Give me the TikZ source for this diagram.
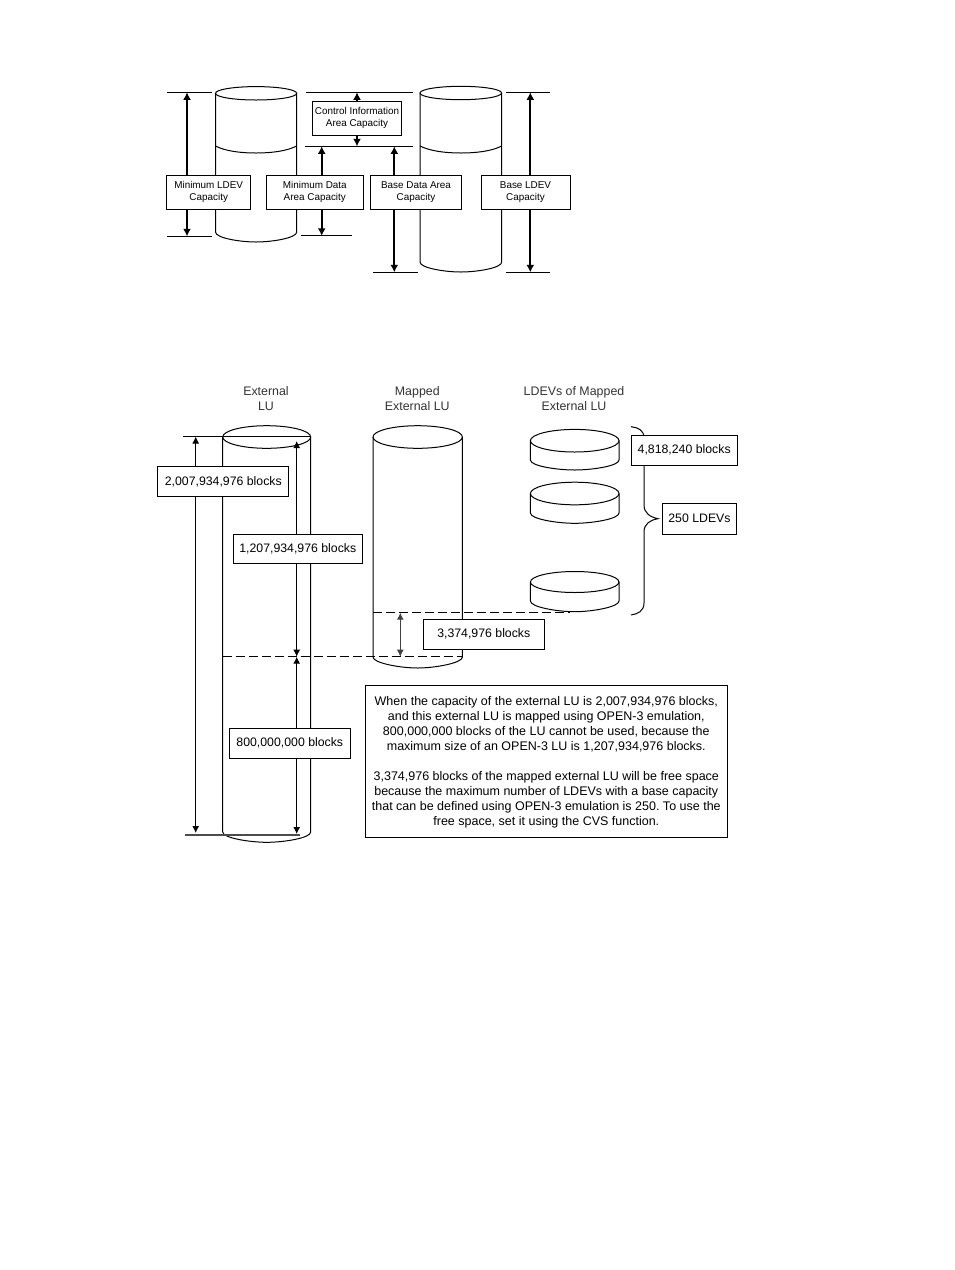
\documentclass[tikz,border=0pt]{standalone}
\usepackage{fontspec}
\setmainfont{Liberation Sans}
\usetikzlibrary{arrows.meta,positioning,calc}
\tikzset{
	smallbox/.style={draw,fill=white,line width=1pt,inner sep=0pt,align=center,font=\fontsize{9.9}{11.6}\selectfont},
	bigbox/.style={draw,fill=white,line width=1pt,inner sep=0pt,align=center,font=\fontsize{12.3}{15}\selectfont},
	notebox/.style={bigbox,font=\fontsize{12.5}{15}\selectfont\frenchspacing},
	headtext/.style={inner sep=0pt,align=center,font=\fontsize{12.4}{15}\selectfont,text=black!80},
	fatarrow/.style={-{Latex[length=7.5pt,width=8pt]},line width=1.9pt},
	thinarrow/.style={-{Latex[length=7pt,width=7pt]},line width=1pt},
	dimline/.style={line width=1pt},
	outline/.style={line width=1pt}
}
\begin{document}
\begin{tikzpicture}[x=1pt,y=-1pt]
\useasboundingbox (0,0) rectangle (954,1270);

% upper cylinders
\draw[outline] (256.1,93.3) ellipse (40.6 and 6.7);
\draw[outline] (215.5,146) .. controls (225,151) and (240,153) .. (256.1,153) .. controls (272,153) and (287,151) .. (296.7,146);
\draw[outline] (215.5,93.3) -- (215.5,232) .. controls (215.5,238) and (240,242) .. (256.1,242) .. controls (272,242) and (296.7,238) .. (296.7,232) -- (296.7,93.3);
\draw[outline] (460.8,93) ellipse (40.8 and 6.7);
\draw[outline] (420,146) .. controls (430,151) and (445,153) .. (460.8,153) .. controls (477,153) and (492,151) .. (501.7,146);
\draw[outline] (420,93) -- (420,262) .. controls (420,268) and (445,272) .. (460.8,272) .. controls (477,272) and (501.7,268) .. (501.7,262) -- (501.7,93);

% upper labels
\node[smallbox,minimum width=83.5pt,minimum height=34pt] (minldev) at (208.7,192) {Minimum LDEV\\Capacity};
\node[smallbox,minimum width=97pt,minimum height=34pt] (mindata) at (314.8,192) {Minimum Data\\Area Capacity};
\node[smallbox,minimum width=91.4pt,minimum height=34pt] (basedata) at (416,192) {Base Data Area\\Capacity};
\node[smallbox,minimum width=89pt,minimum height=34pt] (baseldev) at (525.5,192) {Base LDEV\\Capacity};
\node[smallbox,minimum width=89.4pt,minimum height=34.3pt] (control) at (357,118.2) {Control Information\\Area Capacity};

% upper extension lines
\coordinate (minl) at (167,92.3);
\coordinate (minr) at (212,92.3);
\coordinate (minbl) at (167,236.3);
\coordinate (minbr) at (212,236.3);
\coordinate (ctl) at (306,92.3);
\coordinate (ctr) at (413.3,92.3);
\coordinate (cml) at (305,146.3);
\coordinate (cmr) at (413.3,146.3);
\coordinate (dbl) at (301,235.8);
\coordinate (dbr) at (351.7,235.8);
\coordinate (bbl) at (373,272.3);
\coordinate (bbr) at (417.7,272.3);
\coordinate (ltl) at (506,92.3);
\coordinate (ltr) at (550,92.3);
\coordinate (lbl) at (506,272.3);
\coordinate (lbr) at (550,272.3);
\draw[dimline] (minl) -- (minr);
\draw[dimline] (minbl) -- (minbr);
\draw[dimline] (ctl) -- (ctr);
\draw[dimline] (cml) -- (cmr);
\draw[dimline] (dbl) -- (dbr);
\draw[dimline] (bbl) -- (bbr);
\draw[dimline] (ltl) -- (ltr);
\draw[dimline] (lbl) -- (lbr);

% upper arrows
\coordinate (a1t) at (187,92.3);
\coordinate (a1b) at (187,236.3);
\draw[fatarrow] (minldev.north -| a1t) -- (a1t);
\draw[fatarrow] (minldev.south -| a1b) -- (a1b);
\coordinate (a2t) at (321.7,146.3);
\coordinate (a2b) at (321.7,235.8);
\draw[fatarrow] (mindata.north -| a2t) -- (a2t);
\draw[fatarrow] (mindata.south -| a2b) -- (a2b);
\coordinate (a3t) at (357,92.3);
\coordinate (a3b) at (357,146.3);
\draw[fatarrow] (control.north -| a3t) -- (a3t);
\draw[fatarrow] (control.south -| a3b) -- (a3b);
\coordinate (a4t) at (394.3,146.3);
\coordinate (a4b) at (394.3,272.3);
\draw[fatarrow] (basedata.north -| a4t) -- (a4t);
\draw[fatarrow] (basedata.south -| a4b) -- (a4b);
\coordinate (a5t) at (530.3,92.3);
\coordinate (a5b) at (530.3,272.3);
\draw[fatarrow] (baseldev.north -| a5t) -- (a5t);
\draw[fatarrow] (baseldev.south -| a5b) -- (a5b);

% titles
\node[headtext] (extlu) at (266,399) {External\\LU};
\node[headtext] (maplu) at (417.3,399) {Mapped\\External LU};
\node[headtext] (ldevs) at (574,399) {LDEVs of Mapped\\External LU};

% external and mapped LU
\draw[outline] (266.7,437) ellipse (44 and 11.3);
\draw[outline] (222.7,437) -- (222.7,832) .. controls (222.7,838) and (250,842.3) .. (266.7,842.3) .. controls (284,842.3) and (310.7,838) .. (310.7,832) -- (310.7,437);
\draw[outline] (417.7,437) ellipse (44.7 and 11.3);
\draw[outline] (373,437) -- (373,657) .. controls (373,663) and (400,668) .. (417.7,668) .. controls (435,668) and (462.4,663) .. (462.4,657) -- (462.4,437);

% LDEVs
\draw[outline] (574.7,440.7) ellipse (44.3 and 11.3);
\draw[outline] (530.4,440.7) -- (530.4,460) .. controls (530.4,466) and (557,470) .. (574.7,470) .. controls (592,470) and (619,466) .. (619,460) -- (619,440.7);
\draw[outline] (574.7,493.5) ellipse (44.3 and 11.3);
\draw[outline] (530.4,493.5) -- (530.4,513) .. controls (530.4,519) and (557,523.3) .. (574.7,523.3) .. controls (592,523.3) and (619,519) .. (619,513) -- (619,493.5);
\draw[outline] (574.7,582) ellipse (44.3 and 10.5);
\draw[outline] (530.4,582) -- (530.4,601) .. controls (530.4,607) and (557,611.7) .. (574.7,611.7) .. controls (592,611.7) and (619,607) .. (619,601) -- (619,582);

% brace
\draw[dimline] (631,426.7) .. controls (638,427.5) and (644,430) .. (644,438) -- (644,505) .. controls (644,513) and (650,517) .. (658,518.7) .. controls (650,520) and (644,524) .. (644,532) -- (644,603) .. controls (644,611) and (638,614) .. (631,615);

% dashed levels
\coordinate (dashal) at (222.7,656.7);
\coordinate (dashar) at (462.4,656.7);
\coordinate (dashbl) at (373,612.7);
\coordinate (dashbr) at (570,612.7);
\draw[dimline,dash pattern=on 9pt off 4pt] (dashal) -- (dashar);
\draw[dimline,dash pattern=on 9pt off 4pt] (dashbl) -- (dashbr);

% lower extension lines
\coordinate (exttl) at (183.3,436.3);
\coordinate (exttr) at (310.7,436.3);
\coordinate (extbl) at (185,835);
\coordinate (extbr) at (300,835);
\draw[dimline] (exttl) -- (exttr);
\draw[dimline,black!70,line width=1.2pt] (extbl) -- (extbr);

% block counts
\node[bigbox,minimum width=131.3pt,minimum height=30pt] (total) at (223.3,481.7) {2,007,934,976 blocks};
\node[bigbox,minimum width=129pt,minimum height=29.4pt] (usable) at (297.8,549) {1,207,934,976 blocks};
\node[bigbox,minimum width=121pt,minimum height=30pt] (unused) at (289.8,743.3) {800,000,000 blocks};
\node[bigbox,minimum width=121pt,minimum height=29.7pt] (free) at (483.8,634.2) {3,374,976 blocks};
\node[bigbox,minimum width=105.7pt,minimum height=30pt] (ldevsize) at (684.2,450) {4,818,240 blocks};
\node[bigbox,minimum width=74.4pt,minimum height=30.7pt] (ldevnum) at (699.5,518.7) {250 LDEVs};

% lower arrows
\coordinate (b1t) at (195.7,436.5);
\coordinate (b1b) at (195.7,833);
\draw[thinarrow] (total.north -| b1t) -- (b1t);
\draw[thinarrow] (total.south -| b1b) -- (b1b);
\coordinate (b2t) at (296.7,441);
\coordinate (b2b) at (296.7,656.7);
\draw[thinarrow] (usable.north -| b2t) -- (b2t);
\draw[thinarrow] (usable.south -| b2b) -- (b2b);
\coordinate (b3t) at (296.7,656.7);
\coordinate (b3b) at (296.7,834);
\draw[thinarrow] (unused.north -| b3t) -- (b3t);
\draw[thinarrow] (unused.south -| b3b) -- (b3b);
\coordinate (b4t) at (400.3,612.7);
\coordinate (b4b) at (400.3,656.7);
\draw[{Latex[length=7pt,width=7pt]}-{Latex[length=7pt,width=7pt]},line width=1pt,black!75] (b4t) -- (b4b);

% note
\node[notebox,minimum width=362.5pt,minimum height=151.7pt] (note) at (546.3,761.8) {When the capacity of the external LU is 2,007,934,976 blocks,\\and this external LU is mapped using OPEN-3 emulation,\\800,000,000 blocks of the LU cannot be used, because the\\maximum size of an OPEN-3 LU is 1,207,934,976 blocks.\\[15pt]3,374,976 blocks of the mapped external LU will be free space\\because the maximum number of LDEVs with a base capacity\\that can be defined using OPEN-3 emulation is 250. To use the\\free space, set it using the CVS function.};
\end{tikzpicture}
\end{document}
